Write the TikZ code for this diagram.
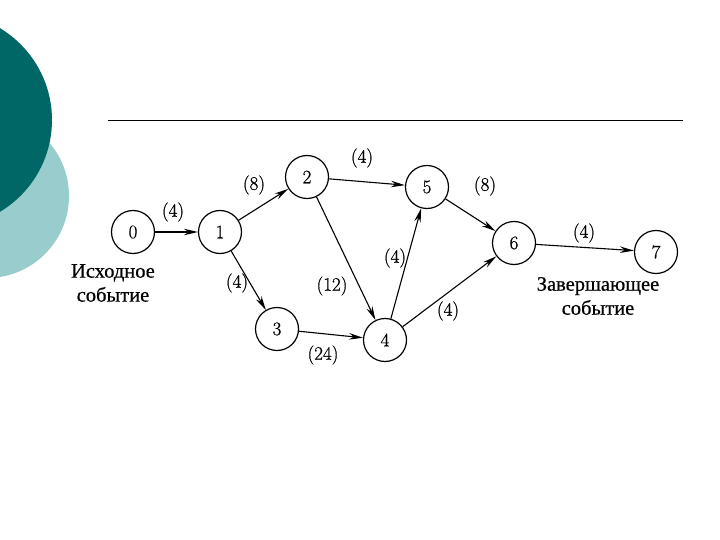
\documentclass[tikz,border=0pt]{standalone}
\usepackage{fontspec}
\newfontfamily\cyrfont[FakeBold=0.6]{Liberation Serif}
\newfontfamily\numfont[FakeBold=0.8]{Latin Modern Roman}
\usetikzlibrary{arrows.meta}
\definecolor{darkteal}{RGB}{0,102,102}
\definecolor{lightteal}{RGB}{153,204,204}
\begin{document}
\begin{tikzpicture}[x=1pt,y=-1pt,
  event/.style={circle,draw,line width=1.2pt,minimum size=43pt,inner sep=0pt,font=\numfont\fontsize{19}{21}\selectfont},
  lbl/.style={inner sep=0pt,font=\numfont\fontsize{19}{21}\selectfont},
  cyr/.style={inner sep=0pt,align=center,font=\cyrfont\fontsize{20.5}{24}\selectfont},
  arr/.style={line width=1.1pt,-{Stealth[length=14pt,width=6.5pt]}}]
\useasboundingbox (0,0) rectangle (720,540);
\begin{scope}
\clip (0,0) rectangle (720,540);
\fill[lightteal] (-13,196) circle (82);
\fill[darkteal] (-55,120) circle (107);
\end{scope}
\draw[line width=0.9pt] (108,120) -- (683,120);

\node[event] (n0) at (133,232) {0};
\node[event] (n1) at (220,232) {1};
\node[event] (n2) at (307,177) {2};
\node[event] (n3) at (277,329) {3};
\node[event] (n4) at (385,340) {4};
\node[event] (n5) at (427,187) {5};
\node[event] (n6) at (514,243) {6};
\node[event] (n7) at (656,252) {7};

\draw[arr] (n0) -- (n1);
\draw[arr] (n1) -- (n2);
\draw[arr] (n1) -- (n3);
\draw[arr] (n2) -- (n5);
\draw[arr] (n2) -- (n4);
\draw[arr] (n3) -- (n4);
\draw[arr] (n4) -- (n5);
\draw[arr] (n4) -- (n6);
\draw[arr] (n5) -- (n6);
\draw[arr] (n6) -- (n7);

\node[lbl] (l01) at (173,212) {(4)};
\node[lbl] (l12) at (254,185) {(8)};
\node[lbl] (l13) at (237,283) {(4)};
\node[lbl] (l24) at (332,286) {(12)};
\node[lbl] (l34) at (323,355) {(24)};
\node[lbl] (l25) at (362,158) {(4)};
\node[lbl] (l45) at (395,258) {(4)};
\node[lbl] (l56) at (485,186) {(8)};
\node[lbl] (l46) at (448,311) {(4)};
\node[lbl] (l67) at (584,233) {(4)};

\node[cyr] (start) at (113,283) {Исходное\\событие};
\node[cyr] (finish) at (598,296) {Завершающее\\событие};
\end{tikzpicture}
\end{document}
